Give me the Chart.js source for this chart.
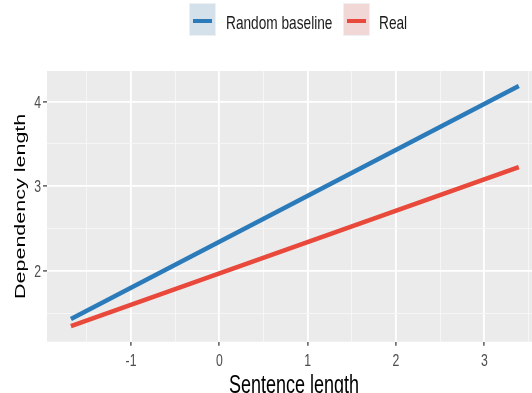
<!DOCTYPE html>
<html>
<head>
<meta charset="utf-8">
<script src="https://cdn.jsdelivr.net/npm/chart.js@4/dist/chart.umd.min.js"></script>
<style>
  html, body { margin: 0; padding: 0; background: #ffffff; overflow: hidden; width: 532px; height: 393px; }
  #wrap { position: relative; width: 532px; height: 400px; }
  #plot { position: absolute; left: 0; top: 0; }
  .key { position: absolute; top: 3px; width: 27px; height: 33px; box-sizing: border-box; border: 1px solid #eef1f4; }
  .key i { position: absolute; left: 3px; right: 3px; top: 15px; height: 4px; }
  .lab { position: absolute; top: 12.7px; line-height: 19px; font-size: 19px; color: #1a1a1a; white-space: nowrap;
         font-family: "Liberation Sans", Arial, sans-serif; transform: scaleX(0.72); transform-origin: 0 0; }
</style>
</head>
<body>
<div id="wrap">
  <canvas id="plot" width="532" height="400"></canvas>
</div>
<script>
// Fitted regression lines: endpoints of the observed sentence-length range
const sentenceLength = [-1.68, 3.39];
const randomBaseline = [1.433, 4.185];
const realLength     = [1.350, 3.228];

// Confidence bands around each fit
const randomLower = [1.418, 4.168];
const randomUpper = [1.448, 4.202];
const realLower   = [1.330, 3.203];
const realUpper   = [1.370, 3.253];

const seriesNames = ['Random baseline', 'Real'];
const lineColors  = ['#2b7bba', '#e8493b'];
const bandColors  = ['rgba(43,123,186,0.18)', 'rgba(232,73,59,0.18)'];
const keyFills    = ['#d4e0ea', '#f1d8d7'];

const xTicks = [-1.5, -1, -0.5, 0, 0.5, 1, 1.5, 2, 2.5, 3, 3.5];
const yTicks = [1.5, 2, 2.5, 3, 3.5, 4];
const xTitle = 'Sentence length';
const yTitle = 'Dependency length';

const FAMILY = '"Liberation Sans", Arial, sans-serif';
const SQUEEZE = 0.72;   // glyphs are drawn narrow and tall

const pts = (ys) => sentenceLength.map((x, i) => ({ x: x, y: ys[i] }));

// legend above the panel
const keyLeft = [189, 343];
const labLeft = [226, 379];
const wrap = document.getElementById('wrap');
seriesNames.forEach((name, i) => {
  const k = document.createElement('div');
  k.className = 'key';
  k.style.left = keyLeft[i] + 'px';
  k.style.background = keyFills[i];
  const bar = document.createElement('i');
  bar.style.background = lineColors[i];
  k.appendChild(bar);
  wrap.appendChild(k);
  const t = document.createElement('div');
  t.className = 'lab';
  t.style.left = labLeft[i] + 'px';
  t.textContent = name;
  wrap.appendChild(t);
});

// grey panel behind the data
const panelBg = {
  id: 'panelBg',
  beforeDraw(chart) {
    const a = chart.chartArea, c = chart.ctx;
    c.save();
    c.fillStyle = '#ebebeb';
    c.fillRect(a.left, a.top, a.right - a.left, a.bottom - a.top);
    c.restore();
  }
};

const isMajor = (v) => Math.abs(v - Math.round(v)) < 1e-9;

// narrow text helper: x squeeze applied in screen space, then optional rotation
function squeezed(c, text, x, y, size, color, align, rot) {
  c.save();
  c.translate(x, y);
  c.scale(SQUEEZE, 1);
  if (rot) c.rotate(rot);
  c.font = size + 'px ' + FAMILY;
  c.fillStyle = color;
  c.textAlign = align;
  c.textBaseline = 'alphabetic';
  c.fillText(text, 0, 0);
  c.restore();
}

// tick labels and axis titles, placed through the chart's scales
const axisText = {
  id: 'axisText',
  afterDraw(chart) {
    const c = chart.ctx, xs = chart.scales.x, ys = chart.scales.y, a = chart.chartArea;
    xTicks.filter(isMajor).forEach((v) => {
      squeezed(c, String(v), xs.getPixelForValue(v), a.bottom + 24, 17, '#4d4d4d', 'center');
    });
    yTicks.filter(isMajor).forEach((v) => {
      squeezed(c, String(v), 41, ys.getPixelForValue(v) + 6.1, 17, '#4d4d4d', 'right');
    });
    squeezed(c, xTitle, 294, 393, 25, '#000000', 'center');
    squeezed(c, yTitle, 24.5, (a.top + a.bottom) / 2, 21.5, '#000000', 'center', -Math.PI / 2);
  }
};

const gridOpts = {
  color: (ctx) => isMajor(ctx.tick.value) ? '#ffffff' : '#f7f7f7',
  lineWidth: (ctx) => isMajor(ctx.tick.value) ? 1.8 : 0.9,
  tickColor: (ctx) => isMajor(ctx.tick.value) ? '#333333' : 'rgba(0,0,0,0)',
  tickWidth: 1.2,
  tickLength: 4,
  drawTicks: true
};

new Chart(document.getElementById('plot'), {
  type: 'line',
  data: {
    datasets: [
      { label: seriesNames[0], data: pts(randomBaseline), borderColor: lineColors[0], borderWidth: 4.5, fill: false },
      { label: seriesNames[1], data: pts(realLength), borderColor: lineColors[1], borderWidth: 4.5, fill: false },
      { label: 'band0u', data: pts(randomUpper), borderWidth: 0, backgroundColor: bandColors[0], fill: '+1' },
      { label: 'band0l', data: pts(randomLower), borderWidth: 0, fill: false },
      { label: 'band1u', data: pts(realUpper), borderWidth: 0, backgroundColor: bandColors[1], fill: '+1' },
      { label: 'band1l', data: pts(realLower), borderWidth: 0, fill: false }
    ]
  },
  plugins: [panelBg, axisText],
  options: {
    responsive: false,
    animation: false,
    devicePixelRatio: 1,
    layout: { padding: { top: 71, left: 0, right: 0, bottom: 0 } },
    elements: { point: { radius: 0 }, line: { tension: 0, borderCapStyle: 'butt' } },
    plugins: { legend: { display: false }, tooltip: { enabled: false } },
    scales: {
      x: {
        type: 'linear', min: -1.951, max: 3.54,
        afterBuildTicks: (s) => { s.ticks = xTicks.map((v) => ({ value: v })); },
        afterFit: (s) => { s.height = 400 - 341.7; },
        border: { display: false },
        grid: gridOpts,
        ticks: { display: false },
        title: { display: false }
      },
      y: {
        type: 'linear', min: 1.165, max: 4.362,
        afterBuildTicks: (s) => { s.ticks = yTicks.map((v) => ({ value: v })); },
        afterFit: (s) => { s.width = 47; },
        border: { display: false },
        grid: gridOpts,
        ticks: { display: false },
        title: { display: false }
      }
    }
  }
});
</script>
</body>
</html>
